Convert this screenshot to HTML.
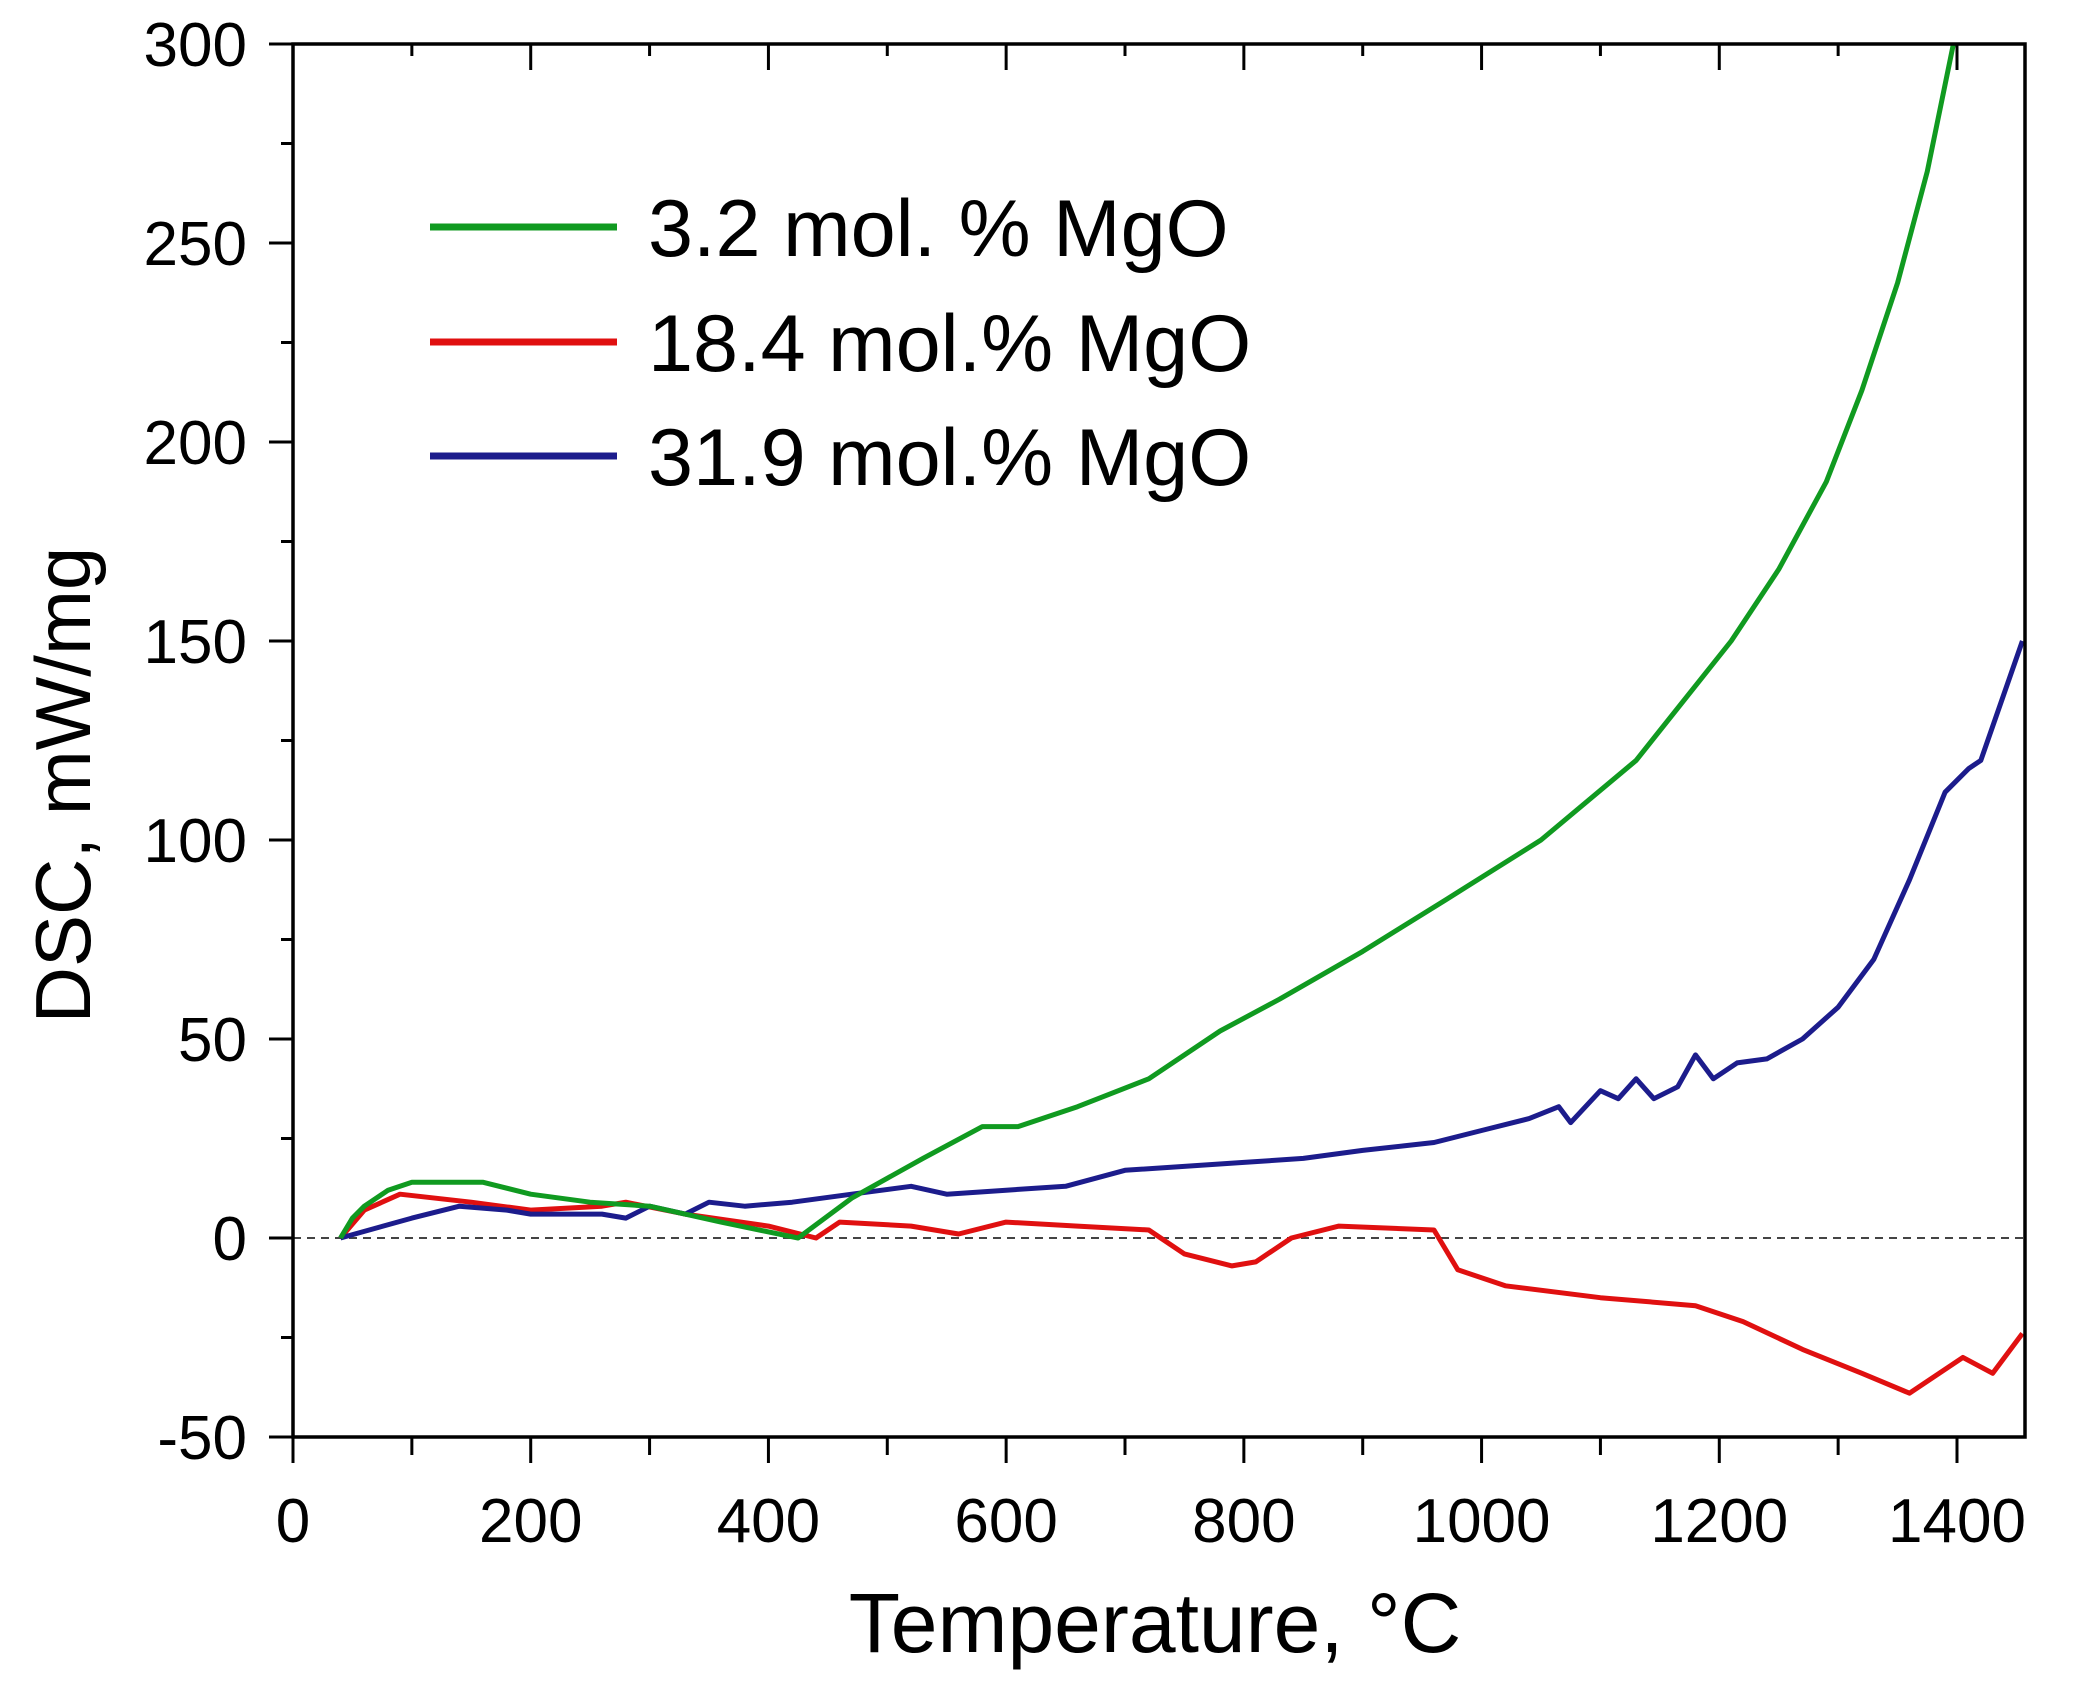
<!DOCTYPE html>
<html><head><meta charset="utf-8"><style>
html,body{margin:0;padding:0;background:#fff}
svg{display:block}
text{font-family:"Liberation Sans",Arial,sans-serif;fill:#000}
</style></head><body>
<svg id="chart" width="2073" height="1685" viewBox="0 0 2073 1685" xmlns="http://www.w3.org/2000/svg">
<g id="plot"></g>
</svg>
<script>
const xTicks=[0,200,400,600,800,1000,1200,1400];
const yTicks=[-50,0,50,100,150,200,250,300];
const seriesNames=["3.2 mol. % MgO","18.4 mol.% MgO","31.9 mol.% MgO"];
const greenT=[40,50,60,70,80,100,130,160,200,250,300,360,425,470,530,580,610,660,720,780,830,900,970,1050,1130,1210,1250,1290,1320,1350,1375,1397];
const greenV=[0,5,8,10,12,14,14,14,11,9,8,4,0,10,20,28,28,33,40,52,60,72,85,100,120,150,168,190,213,240,268,300];
const redT=[40,60,90,150,200,260,280,330,400,440,460,520,560,600,660,720,750,790,810,840,880,960,980,1020,1100,1180,1220,1270,1320,1360,1380,1405,1430,1455];
const redV=[0,7,11,9,7,8,9,6,3,0,4,3,1,4,3,2,-4,-7,-6,0,3,2,-8,-12,-15,-17,-21,-28,-34,-39,-35,-30,-34,-24];
const blueT=[40,100,140,180,200,260,280,300,330,350,380,420,470,520,550,600,650,700,800,850,900,960,1000,1040,1065,1075,1100,1115,1130,1145,1165,1180,1195,1215,1240,1270,1300,1330,1360,1390,1410,1420,1455];
const blueV=[0,5,8,7,6,6,5,8,6,9,8,9,11,13,11,12,13,17,19,20,22,24,27,30,33,29,37,35,40,35,38,46,40,44,45,50,58,70,90,112,118,120,150];

const L=293,R=2025,T=44,B=1437,YMIN=-50,YMAX=300;
const X=v=>L+v*(1957-L)/1400;
const Y=v=>B-(v-YMIN)*(B-T)/(YMAX-YMIN);
const NS="http://www.w3.org/2000/svg";
const g=document.getElementById('plot');
function mk(tag,attrs,parent){const e=document.createElementNS(NS,tag);for(const k in attrs)e.setAttribute(k,attrs[k]);(parent||g).appendChild(e);return e;}

let z=mk('line',{x1:L,x2:R,y1:Y(0),y2:Y(0),stroke:'#444','stroke-width':2,'stroke-dasharray':'8,6'});



function series(ts,vs,color,name){
  const d=ts.map((t,i)=>(i?'L':'M')+X(t).toFixed(1)+','+Y(vs[i]).toFixed(1)).join(' ');
  const p=mk('path',{d:d,fill:'none',stroke:color,'stroke-width':5,'stroke-linejoin':'round'});
  
  
}
const clip=mk('clipPath',{id:'c'});mk('rect',{x:L,y:T,width:R-L,height:B-T},clip);
series(redT,redV,'#e01010','series-18-4-mgo');
series(blueT,blueV,'#1c1c8c','series-31-9-mgo');
series(greenT,greenV,'#109a20','series-3-2-mgo');
g.querySelectorAll('path').forEach(p=>p.setAttribute('clip-path','url(#c)'));

let fr=mk('rect',{x:L,y:T,width:R-L,height:B-T,fill:'none',stroke:'#000','stroke-width':3.5});



for(let v=0;v<=1400;v+=100){
  const major=v%200===0;
  mk('line',{x1:X(v),x2:X(v),y1:B,y2:B+(major?26:18),stroke:'#000','stroke-width':3});
  mk('line',{x1:X(v),x2:X(v),y1:T,y2:T+(major?26:12),stroke:'#000','stroke-width':3});
}
xTicks.forEach(v=>{
  const t=mk('text',{x:X(v),y:B+105,'font-size':62,'text-anchor':'middle'});t.textContent=v;
  
  
});
for(let v=-50;v<=300;v+=25){
  const major=v%50===0;
  mk('line',{x1:L-(major?24:12),x2:L,y1:Y(v),y2:Y(v),stroke:'#000','stroke-width':3});
}
yTicks.forEach(v=>{
  const t=mk('text',{x:L-46,y:Y(v)+22,'font-size':62,'text-anchor':'end'});t.textContent=v;
  
  
});
let xt=mk('text',{x:1155,y:1652,'font-size':84,'text-anchor':'middle'});xt.textContent='Temperature, °C';


let yt=mk('text',{x:0,y:0,'font-size':78,'text-anchor':'middle',transform:'translate(90,785) rotate(-90)'});yt.textContent='DSC, mW/mg';


const colors=['#109a20','#e01010','#1c1c8c'];
const ly=[227,342,456];
seriesNames.forEach((n,i)=>{
  const ln=mk('line',{x1:430,x2:617,y1:ly[i],y2:ly[i],stroke:colors[i],'stroke-width':7});
  
  
  const t=mk('text',{x:648,y:ly[i]+29,'font-size':81});t.textContent=n;
  
  
});
</script>
</body></html>
